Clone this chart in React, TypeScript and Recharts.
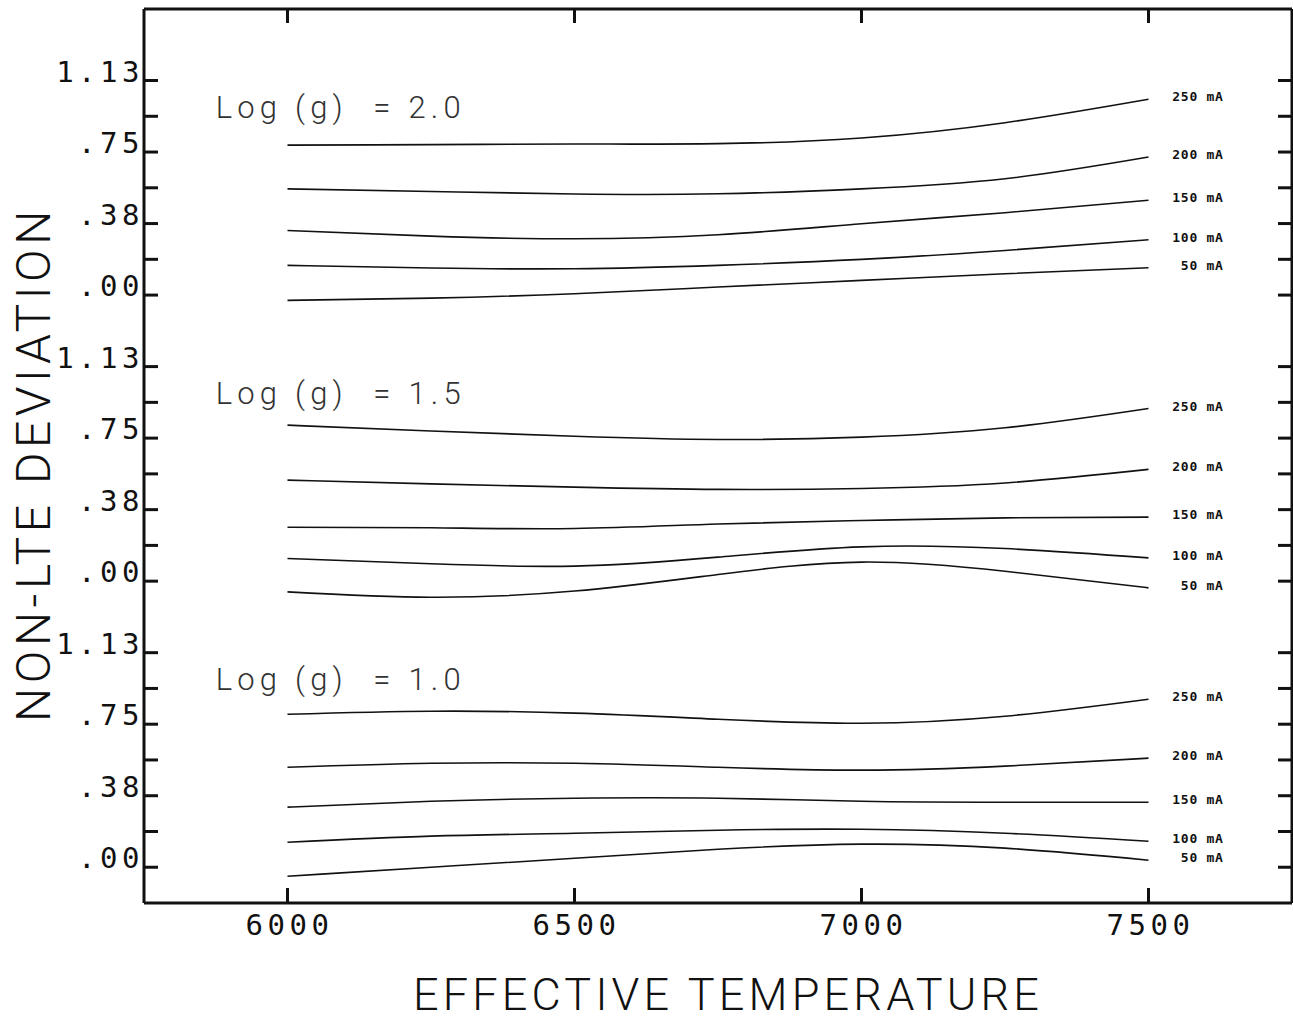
import { LineChart, Line, XAxis, YAxis, ReferenceDot, LabelList } from "recharts";

// effective temperature grid (K)
const TEMPS = [6000, 6250, 6500, 6750, 7000, 7250, 7500];
const CURRENTS = ["250 mA", "200 mA", "150 mA", "100 mA", "50 mA"];
const GRAVITIES = ["2.0", "1.5", "1.0"];
// each panel is stacked 1.5 units above the one below
const PANEL_OFFSETS = [3, 1.5, 0];

// non-LTE deviation, one row per current (250 -> 50 mA)
const DEV_G20 = [
  [0.786, 0.789, 0.792, 0.794, 0.824, 0.904, 1.027],
  [0.557, 0.543, 0.53, 0.531, 0.557, 0.61, 0.724],
  [0.339, 0.309, 0.295, 0.316, 0.374, 0.432, 0.497],
  [0.156, 0.142, 0.138, 0.156, 0.187, 0.234, 0.29],
  [-0.028, -0.016, 0.007, 0.042, 0.077, 0.112, 0.143],
];
const DEV_G15 = [
  [0.818, 0.787, 0.76, 0.743, 0.755, 0.804, 0.905],
  [0.53, 0.51, 0.493, 0.481, 0.486, 0.515, 0.586],
  [0.283, 0.28, 0.276, 0.3, 0.318, 0.332, 0.336],
  [0.119, 0.091, 0.079, 0.126, 0.18, 0.171, 0.122],
  [-0.056, -0.084, -0.052, 0.035, 0.1, 0.052, -0.035],
];
const DEV_G10 = [
  [0.802, 0.818, 0.808, 0.776, 0.755, 0.792, 0.881],
  [0.524, 0.545, 0.545, 0.524, 0.509, 0.53, 0.572],
  [0.315, 0.346, 0.362, 0.362, 0.346, 0.341, 0.341],
  [0.131, 0.163, 0.178, 0.194, 0.199, 0.178, 0.136],
  [-0.047, 0.0, 0.047, 0.094, 0.121, 0.1, 0.037],
];
const PANELS = [DEV_G20, DEV_G15, DEV_G10];

const X_TICKS = [6000, 6500, 7000, 7500];
const Y_STEPS = [0, 0.1875, 0.375, 0.5625, 0.75, 0.9375, 1.125];
const Y_LABEL_VALUES = [0, 0.375, 0.75, 1.125];
const Y_LABELS = [".00", ".38", ".75", "1.13"];

const INK = "#111";
const MONO = "'DejaVu Sans Mono', monospace";
const THIN = "Roboto, 'DejaVu Sans', sans-serif";

const data = TEMPS.map((t, i) => {
  const row: Record<string, number> = { t };
  PANELS.forEach((panel, p) => {
    panel.forEach((series, c) => {
      row[`p${p}c${c}`] = PANEL_OFFSETS[p] + series[i];
    });
  });
  return row;
});

const yTicks = PANEL_OFFSETS.flatMap((o) => Y_STEPS.map((s) => o + s));

function yLabel(v: number) {
  const rel = v % 1.5;
  const idx = Y_LABEL_VALUES.findIndex((l) => Math.abs(l - rel) < 1e-6);
  return idx >= 0 ? Y_LABELS[idx] : null;
}

const LeftTick = (props: any) => {
  const { x, y, payload } = props;
  const label = yLabel(payload.value);
  return (
    <g>
      <line x1={x} x2={x + 14} y1={y} y2={y} stroke={INK} strokeWidth={3} />
      {label && (
        <text x={x} y={y + 1} textAnchor="end" fontFamily={MONO} fontSize={29} letterSpacing={4.5} fill={INK}>
          {label}
        </text>
      )}
    </g>
  );
};

const RightTick = (props: any) => {
  const { x, y } = props;
  return <line x1={x - 14} x2={x} y1={y} y2={y} stroke={INK} strokeWidth={3} />;
};

const BottomTick = (props: any) => {
  const { x, y, payload } = props;
  return (
    <g>
      <line x1={x} x2={x} y1={y - 15} y2={y} stroke={INK} strokeWidth={3} />
      <text x={x + 2} y={y + 32} textAnchor="middle" fontFamily={MONO} fontSize={29} letterSpacing={4.5} fill={INK}>
        {payload.value}
      </text>
    </g>
  );
};

const TopTick = (props: any) => {
  const { x, y } = props;
  return <line x1={x} x2={x} y1={y} y2={y + 14} stroke={INK} strokeWidth={3} />;
};

const endLabel = (text: string) => (props: any) => {
  if (props.index !== TEMPS.length - 1) return null;
  return (
    <text x={props.x + 75} y={props.y + 2} textAnchor="end" fontFamily={MONO} fontSize={13} fontWeight="bold" letterSpacing={0.7} fill={INK}>
      {text}
    </text>
  );
};

const gravityShape = (g: string) => (props: any) => (
  <text x={props.cx} y={props.cy} fontFamily={THIN} fontWeight={300} fontSize={31} letterSpacing={5.2} fill="#333" style={{ whiteSpace: "pre" }}>
    {`Log (g)  = ${g}`}
  </text>
);

export default function App() {
  return (
    <div style={{ position: "absolute", left: 0, top: 0, width: 1293, height: 1020, background: "#fff" }}>
      <LineChart width={1293} height={1020} data={data} margin={{ top: 8, right: 0, bottom: 0, left: 0 }}>
        <XAxis
          dataKey="t"
          type="number"
          domain={[5750, 7750]}
          ticks={X_TICKS}
          height={117}
          tickSize={0}
          tickMargin={0}
          tickLine={false}
          axisLine={{ stroke: INK, strokeWidth: 3 }}
          tick={<BottomTick />}
          allowDataOverflow
        />
        <XAxis
          xAxisId="top"
          orientation="top"
          dataKey="t"
          type="number"
          domain={[5750, 7750]}
          ticks={X_TICKS}
          height={1}
          tickSize={0}
          tickMargin={0}
          tickLine={false}
          axisLine={{ stroke: INK, strokeWidth: 3 }}
          tick={<TopTick />}
          allowDataOverflow
        />
        <YAxis
          type="number"
          domain={[-0.1875, 4.5]}
          ticks={yTicks}
          width={144}
          tickSize={0}
          tickMargin={0}
          tickLine={false}
          axisLine={{ stroke: INK, strokeWidth: 3 }}
          tick={<LeftTick />}
          interval={0}
          allowDataOverflow
        />
        <YAxis
          yAxisId="r"
          orientation="right"
          type="number"
          domain={[-0.1875, 4.5]}
          ticks={yTicks}
          width={1}
          tickSize={0}
          tickMargin={0}
          tickLine={false}
          axisLine={{ stroke: INK, strokeWidth: 3 }}
          tick={<RightTick />}
          interval={0}
          allowDataOverflow
        />
        {PANELS.map((panel, p) =>
          panel.map((_, c) => (
            <Line
              key={`p${p}c${c}`}
              dataKey={`p${p}c${c}`}
              type="natural"
              stroke={INK}
              strokeWidth={1.6}
              dot={false}
              activeDot={false}
              isAnimationActive={false}
            >
              <LabelList content={endLabel(CURRENTS[c])} />
            </Line>
          ))
        )}
        {GRAVITIES.map((g, p) => (
          <ReferenceDot
            key={g}
            x={5875}
            y={PANEL_OFFSETS[p] + 0.93}
            r={0}
            shape={gravityShape(g)}
          />
        ))}
      </LineChart>
      <svg width={1293} height={1020} style={{ position: "absolute", left: 0, top: 0, pointerEvents: "none" }}>
        <text x={728} y={1010} textAnchor="middle" fontFamily={THIN} fontWeight={300} fontSize={45} letterSpacing={4.2} fill={INK}>
          EFFECTIVE TEMPERATURE
        </text>
        <text
          x={50}
          y={464}
          transform="rotate(-90 50 464)"
          textAnchor="middle"
          fontFamily={THIN}
          fontWeight={300}
          fontSize={48}
          letterSpacing={4.6}
          fill={INK}
        >
          NON-LTE DEVIATION
        </text>
      </svg>
    </div>
  );
}
